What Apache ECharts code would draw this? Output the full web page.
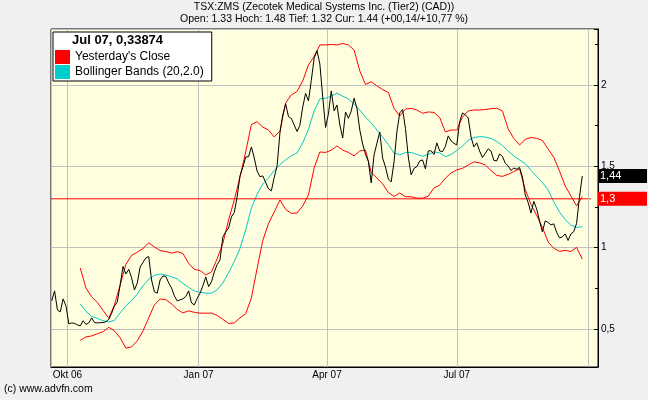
<!DOCTYPE html>
<html><head><meta charset="utf-8">
<script src="https://cdn.jsdelivr.net/npm/echarts@6/dist/echarts.min.js"></script>
<style>html,body{margin:0;padding:0;background:#f0f0f0;} #c{width:648px;height:400px;}</style>
</head><body><div id="c"></div>
<script>
const titleText = 'TSX:ZMS (Zecotek Medical Systems Inc. (Tier2) (CAD))';
const subText = 'Open: 1.33 Hoch: 1.48 Tief: 1.32 Cur: 1.44 (+00,14/+10,77 %)';
const legendTitle = 'Jul 07, 0,33874';
const copyrightText = '(c) www.advfn.com';
const seriesNames = ["Yesterday's Close", 'Bollinger Bands (20,2.0)'];
const xTickLabels = {'2006-9': 'Okt 06', '2007-0': 'Jan 07', '2007-3': 'Apr 07', '2007-6': 'Jul 07'};
const yTickValues = [0.5, 1, 1.5, 2];
const closeStepDays = 2;      // spacing of the close samples
const bandOffsetDays = 20;    // bands begin 20 days after first close
const bandStepDays = 4;       // spacing of the band samples
const yesterdayClose = 1.3;
const lastClose = 1.44;

const closeValues = [
0.672,0.734,0.617,0.605,0.685,0.642,0.531,0.537,0.534,0.525,
0.519,0.550,0.528,0.537,0.568,0.539,0.537,0.539,0.539,0.545,
0.559,0.596,0.642,0.666,0.771,0.884,0.838,0.866,0.814,0.740,
0.783,0.881,0.909,0.937,0.945,0.801,0.728,0.720,0.801,0.826,
0.823,0.783,0.752,0.703,0.672,0.679,0.685,0.699,0.734,0.660,
0.648,0.688,0.720,0.765,0.820,0.760,0.789,0.851,0.896,0.924,
1.066,1.097,1.121,1.189,1.216,1.312,1.441,1.493,1.557,1.559,
1.619,1.551,1.471,1.436,1.441,1.401,1.361,1.349,1.432,1.502,
1.705,1.816,1.883,1.805,1.794,1.754,1.714,1.752,1.865,1.948,
1.902,2.028,2.166,2.211,2.129,1.926,1.739,1.822,1.963,1.840,
1.877,1.754,1.674,1.834,1.795,1.840,1.918,1.857,1.723,1.637,
1.573,1.530,1.398,1.570,1.642,1.711,1.551,1.496,1.422,1.404,
1.527,1.711,1.828,1.849,1.733,1.557,1.447,1.487,1.498,1.533,
1.539,1.484,1.594,1.596,1.573,1.644,1.594,1.590,1.622,1.687,
1.656,1.641,1.631,1.773,1.828,1.816,1.797,1.680,1.619,1.644,
1.594,1.554,1.580,1.607,1.594,1.536,1.533,1.576,1.561,1.519,
1.502,1.474,1.489,1.482,1.493,1.435,1.324,1.278,1.213,1.284,
1.238,1.164,1.097,1.164,1.155,1.140,1.146,1.094,1.060,1.066,
1.084,1.044,1.084,1.098,1.149,1.312,1.44
];
const middleBand = [
0.654,0.608,0.577,0.565,0.550,0.543,0.553,0.599,0.642,0.673,
0.715,0.765,0.805,0.829,0.838,0.832,0.821,0.808,0.780,0.755,
0.734,0.725,0.720,0.720,0.740,0.783,0.845,0.915,0.995,1.109,
1.244,1.327,1.392,1.428,1.475,1.511,1.539,1.564,1.582,1.644,
1.727,1.840,1.914,1.918,1.932,1.949,1.931,1.914,1.883,1.846,
1.803,1.766,1.723,1.680,1.634,1.582,1.570,1.585,1.585,1.573,
1.562,1.573,1.589,1.582,1.559,1.573,1.597,1.625,1.659,1.677,
1.682,1.680,1.671,1.653,1.628,1.594,1.564,1.539,1.517,1.475,
1.438,1.401,1.355,1.281,1.219,1.172,1.138,1.124,1.129
];
const upperBand = [
0.875,0.752,0.697,0.663,0.614,0.566,0.648,0.771,0.897,0.952,
0.972,0.995,1.029,1.004,0.982,0.976,0.966,0.975,0.964,0.903,
0.866,0.859,0.832,0.851,0.931,1.026,1.170,1.293,1.435,1.588,
1.757,1.774,1.741,1.723,1.680,1.717,1.889,1.939,1.960,2.025,
2.123,2.175,2.246,2.246,2.249,2.246,2.255,2.246,2.215,2.086,
2.003,2.020,1.994,1.972,1.954,1.856,1.809,1.852,1.856,1.846,
1.826,1.834,1.831,1.800,1.711,1.723,1.723,1.803,1.840,1.846,
1.846,1.849,1.854,1.857,1.840,1.730,1.671,1.631,1.665,1.677,
1.672,1.659,1.607,1.555,1.471,1.379,1.318,1.256,1.314
];
const lowerBand = [
0.430,0.451,0.457,0.470,0.483,0.510,0.488,0.445,0.382,0.390,
0.427,0.488,0.568,0.648,0.684,0.680,0.654,0.620,0.599,0.611,
0.602,0.597,0.597,0.597,0.583,0.559,0.534,0.537,0.568,0.593,
0.691,0.872,1.044,1.149,1.219,1.293,1.235,1.210,1.213,1.256,
1.324,1.490,1.588,1.585,1.599,1.625,1.600,1.585,1.564,1.594,
1.600,1.462,1.428,1.392,1.339,1.315,1.336,1.313,1.313,1.304,
1.304,1.316,1.367,1.384,1.427,1.459,1.478,1.487,1.508,1.527,
1.521,1.508,1.474,1.444,1.438,1.450,1.468,1.484,1.358,1.266,
1.198,1.125,1.035,0.996,0.977,0.983,0.976,1.001,0.929
];

const DAY = 86400000;
const t0 = new Date(2006, 8, 20).getTime();
const xMin = new Date(2006, 8, 19, 12).getTime();
const xMax = new Date(2007, 9, 8).getTime();
const yLineEnd = new Date(2007, 9, 3).getTime();
const lastGridDate = new Date(2007, 9, 1).getTime();

const closeData = closeValues.map((v, i) => [t0 + i * closeStepDays * DAY, v]);
const bandData = arr => arr.map((v, i) => [t0 + (bandOffsetDays + i * bandStepDays) * DAY, v]);

const FONT = '"Liberation Sans", Arial, sans-serif';
const comma = v => String(v).replace('.', ',');

const chart = echarts.init(document.getElementById('c'), null, {renderer: 'canvas'});
chart.setOption({
  backgroundColor: '#f0f0f0',
  animation: false,
  title: {
    left: 'center', top: 2, padding: 0, itemGap: 1,
    text: titleText, subtext: subText,
    textStyle: {fontSize: 10.5, fontWeight: 'normal', color: '#000', fontFamily: FONT},
    subtextStyle: {fontSize: 10.5, color: '#000', fontFamily: FONT}
  },
  legend: {
    left: 53, top: 32, orient: 'vertical', padding: [18, 8, 2, 2], itemGap: 1,
    itemWidth: 15, itemHeight: 14, icon: 'rect', selectedMode: false,
    backgroundColor: '#fff', borderColor: '#000', borderWidth: 1, borderRadius: 0,
    textStyle: {fontSize: 12, color: '#000', fontFamily: FONT},
    data: seriesNames
  },
  grid: {left: 51, right: 50, top: 29, bottom: 33, show: true, backgroundColor: '#ffffe0', borderColor: '#000', borderWidth: 1},
  xAxis: {
    type: 'time', min: xMin, max: xMax,
    minInterval: 90 * DAY, maxInterval: 92 * DAY, splitNumber: 4,
    axisLine: {show: true, lineStyle: {color: '#000'}},
    axisTick: {show: false},
    splitLine: {show: true, lineStyle: {color: '#c0c0c0', width: 1}},
    axisLabel: {
      color: '#000', fontSize: 10, fontFamily: FONT, margin: 3, showMinLabel: false, showMaxLabel: false,
      formatter: function (v) {
        const d = new Date(v);
        if (d.getDate() !== 1) return '';
        return xTickLabels[d.getFullYear() + '-' + d.getMonth()] || '';
      }
    }
  },
  yAxis: {
    type: 'value', position: 'right', min: 0.266, max: 2.344,
    minInterval: 0.5, maxInterval: 0.5,
    axisLine: {show: true, lineStyle: {color: '#000'}},
    axisTick: {show: true, inside: true, length: 4, lineStyle: {color: '#000'}},
    minorTick: {show: true, splitNumber: 2, length: 3, lineStyle: {color: '#000'}},
    splitLine: {show: true, lineStyle: {color: '#c0c0c0', width: 1}},
    axisLabel: {
      color: '#000', fontSize: 10, fontFamily: FONT, margin: 3, showMinLabel: false, showMaxLabel: false,
      formatter: function (v) {
        for (const t of yTickValues) if (Math.abs(v - t) < 1e-6) return comma(t);
        return '';
      }
    }
  },
  series: [
    {name: 'Upper Band', type: 'line', data: bandData(upperBand), symbol: 'none', z: 2,
     lineStyle: {color: '#ff0000', width: 1}, itemStyle: {color: '#ff0000'},
     markLine: {silent: true, symbol: 'none', animation: false,
       lineStyle: {color: '#c0c0c0', type: 'solid', width: 1}, label: {show: false},
       data: [{xAxis: lastGridDate}]}},
    {name: 'Lower Band', type: 'line', data: bandData(lowerBand), symbol: 'none', z: 2,
     lineStyle: {color: '#ff0000', width: 1}, itemStyle: {color: '#ff0000'}},
    {name: seriesNames[1], type: 'line', data: bandData(middleBand), symbol: 'none', z: 2,
     lineStyle: {color: '#00c8c8', width: 1}, itemStyle: {color: '#00cccc'}},
    {name: seriesNames[0], type: 'line', data: [[xMin, yesterdayClose], [yLineEnd, yesterdayClose]], symbol: 'none', z: 3,
     lineStyle: {color: '#ff0000', width: 1}, itemStyle: {color: '#ff0000'},
     markLine: {silent: true, symbol: 'none', animation: false,
       lineStyle: {color: 'rgba(0,0,0,0)', width: 1},
       label: {show: true, position: 'end', distance: 0, formatter: p => comma(p.value),
         color: '#fff', backgroundColor: '#ff0000', fontSize: 11, fontFamily: FONT,
         padding: [2, 2, 1, 2], width: 45, height: 11, lineHeight: 11, align: 'left'},
       data: [{yAxis: yesterdayClose}]}},
    {name: 'Close', type: 'line', data: closeData, symbol: 'none', z: 4,
     lineStyle: {color: '#000', width: 1}, itemStyle: {color: '#000'},
     markLine: {silent: true, symbol: 'none', animation: false,
       lineStyle: {color: 'rgba(0,0,0,0)', width: 1},
       label: {show: true, position: 'end', distance: 0, formatter: p => comma(p.value),
         color: '#fff', backgroundColor: '#000', fontSize: 11, fontFamily: FONT,
         padding: [2, 2, 1, 2], width: 45, height: 11, lineHeight: 11, align: 'left'},
       data: [{yAxis: lastClose}]}}
  ],
  graphic: [
    {type: 'text', left: 72, top: 34, z: 100, style: {text: legendTitle, font: 'bold 13px ' + FONT, fill: '#000'}},
    {type: 'text', left: 4, top: 384, z: 100, style: {text: copyrightText, font: '10.5px ' + FONT, fill: '#000'}}
  ]
});
</script></body></html>
